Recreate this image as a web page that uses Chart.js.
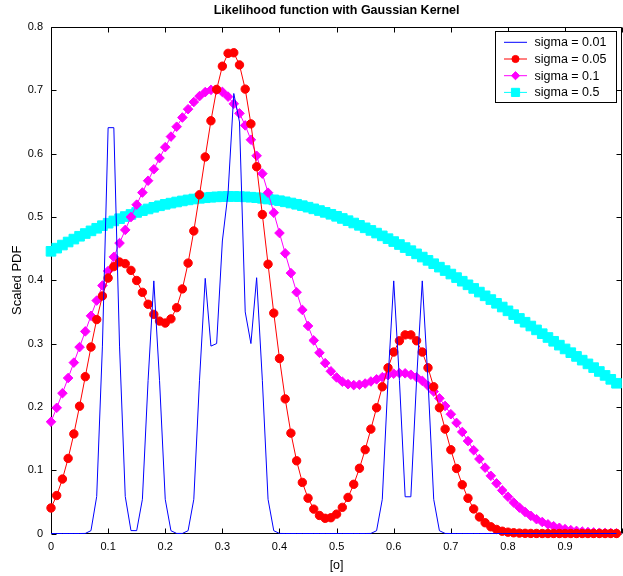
<!DOCTYPE html>
<html>
<head>
<meta charset="utf-8">
<script src="https://cdn.jsdelivr.net/npm/chart.js@4.4.0/dist/chart.umd.min.js"></script>
<style>
  html, body { margin: 0; padding: 0; background: #fff; overflow: hidden; }
  #wrap { width: 630px; height: 576px; }
</style>
</head>
<body>
<div id="wrap"><canvas id="c" width="630" height="576"></canvas></div>
<script>
// ── data (x step 0.01)
const xs = [
  0.00,0.01,0.02,0.03,0.04,0.05,0.06,0.07,0.08,0.09,
  0.10,0.11,0.12,0.13,0.14,0.15,0.16,0.17,0.18,0.19,
  0.20,0.21,0.22,0.23,0.24,0.25,0.26,0.27,0.28,0.29,
  0.30,0.31,0.32,0.33,0.34,0.35,0.36,0.37,0.38,0.39,
  0.40,0.41,0.42,0.43,0.44,0.45,0.46,0.47,0.48,0.49,
  0.50,0.51,0.52,0.53,0.54,0.55,0.56,0.57,0.58,0.59,
  0.60,0.61,0.62,0.63,0.64,0.65,0.66,0.67,0.68,0.69,
  0.70,0.71,0.72,0.73,0.74,0.75,0.76,0.77,0.78,0.79,
  0.80,0.81,0.82,0.83,0.84,0.85,0.86,0.87,0.88,0.89,
  0.90,0.91,0.92,0.93,0.94,0.95,0.96,0.97,0.98,0.99
];

const sigma001 = [
  0,0,0,0,0,0,0.0001,0.0045,0.0584,0.296,
  0.641,0.641,0.296,0.0584,0.0046,0.0045,0.054,0.242,0.399,0.242,
  0.054,0.0044,0.0001,0.0001,0.0044,0.054,0.242,0.403,0.296,0.300,
  0.462,0.538,0.695,0.650,0.350,0.300,0.404,0.242,0.054,0.0044,
  0.0001,0,0,0,0,0,0,0,0,0,
  0,0,0,0,0,0,0.0001,0.0044,0.054,0.242,
  0.399,0.242,0.058,0.058,0.242,0.399,0.242,0.054,0.0044,0.0001,
  0,0,0,0,0,0,0,0,0,0,
  0,0,0,0,0,0,0,0,0,0,
  0,0,0,0,0,0,0,0,0,0
];

const sigma005 = [
  0.0403,0.0600,0.0860,0.1186,0.1573,0.2011,0.2477,0.2945,0.3379,0.3752,
  0.4035,0.4215,0.4288,0.4262,0.4156,0.3996,0.3809,0.3621,0.3461,0.3355,
  0.3324,0.3390,0.3567,0.3863,0.4271,0.4779,0.5350,0.5947,0.6519,0.7014,
  0.7381,0.7584,0.7593,0.7401,0.7019,0.6470,0.5793,0.5038,0.4253,0.3481,
  0.2764,0.2126,0.1585,0.1148,0.0807,0.0558,0.0385,0.0285,0.0240,0.0249,
  0.0306,0.0413,0.0570,0.0777,0.1030,0.1324,0.1649,0.1986,0.2317,0.2617,
  0.2866,0.3044,0.3137,0.3137,0.3044,0.2866,0.2617,0.2317,0.1986,0.1649,
  0.1323,0.1027,0.0770,0.0557,0.0388,0.0261,0.0170,0.0106,0.0064,0.0036,
  0.0021,0.0011,0.0006,0.0003,0.0001,0.0001,0,0,0,0,
  0,0,0,0,0,0,0,0,0,0
];

const sigma01 = [
  0.1765,0.1985,0.2216,0.2456,0.2699,0.2944,0.3192,0.3438,0.3679,0.3916,
  0.4146,0.4369,0.4587,0.4795,0.4999,0.5194,0.5385,0.5572,0.5753,0.5929,
  0.6102,0.6269,0.6425,0.6570,0.6702,0.6815,0.6908,0.6972,0.7007,0.7009,
  0.6975,0.6900,0.6787,0.6636,0.6446,0.6219,0.5966,0.5684,0.5383,0.5067,
  0.4746,0.4425,0.4113,0.3811,0.3532,0.3278,0.3050,0.2854,0.2691,0.2562,
  0.2465,0.2398,0.2359,0.2344,0.2350,0.2369,0.2401,0.2435,0.2469,0.2502,
  0.2524,0.2533,0.2530,0.2508,0.2468,0.2411,0.2336,0.2242,0.2135,0.2015,
  0.1884,0.1747,0.1604,0.1460,0.1315,0.1176,0.1040,0.0911,0.0792,0.0681,
  0.0581,0.0490,0.0409,0.0340,0.0279,0.0226,0.0182,0.0145,0.0115,0.0090,
  0.0069,0.0053,0.0041,0.0031,0.0023,0.0017,0.0012,0.0009,0.0007,0.0005
];

const sigma05 = [
  0.4457,0.4507,0.4556,0.4604,0.4650,0.4695,0.4738,0.4780,0.4821,0.4862,
  0.4901,0.4937,0.4972,0.5006,0.5039,0.5071,0.5099,0.5126,0.5152,0.5176,
  0.5199,0.5218,0.5236,0.5253,0.5269,0.5283,0.5294,0.5303,0.5311,0.5317,
  0.5321,0.5323,0.5323,0.5321,0.5317,0.5312,0.5304,0.5294,0.5283,0.5270,
  0.5256,0.5239,0.5220,0.5200,0.5178,0.5154,0.5128,0.5101,0.5072,0.5042,
  0.5010,0.4976,0.4941,0.4904,0.4867,0.4828,0.4787,0.4745,0.4701,0.4657,
  0.4611,0.4564,0.4516,0.4467,0.4417,0.4366,0.4314,0.4261,0.4207,0.4153,
  0.4098,0.4042,0.3985,0.3928,0.3871,0.3813,0.3754,0.3695,0.3636,0.3577,
  0.3517,0.3457,0.3397,0.3337,0.3277,0.3216,0.3156,0.3096,0.3036,0.2975,
  0.2915,0.2856,0.2797,0.2738,0.2679,0.2620,0.2559,0.2497,0.2435,0.2373
];

const legendLabels = ['sigma = 0.01', 'sigma = 0.05', 'sigma = 0.1', 'sigma = 0.5'];
const xTickVals = [0, 0.1, 0.2, 0.3, 0.4, 0.5, 0.6, 0.7, 0.8, 0.9];
const yTickVals = [0, 0.1, 0.2, 0.3, 0.4, 0.5, 0.6, 0.7, 0.8];

const FONT = "'Liberation Sans', Arial, sans-serif";

// ── series styles (matlab-ish colours / markers)
const series = [
  { label: legendLabels[0], values: sigma001, color: '#0000ff', style: false,     r: 0 },
  { label: legendLabels[1], values: sigma005, color: '#ff0000', style: 'circle',  r: 4.2 },
  { label: legendLabels[2], values: sigma01,  color: '#ff00ff', style: 'rectRot', r: 4.8 },
  { label: legendLabels[3], values: sigma05,  color: '#00ffff', style: 'rect',    r: 6.8 },
];

function tickText(v) { return String(+v.toFixed(1)); }

// ── axes box + inward ticks (drawn under the data, like matlab)
const framePlugin = {
  id: 'frame',
  beforeDatasetsDraw(chart) {
    const { ctx, chartArea: a, scales: { x, y } } = chart;
    const L = Math.round(a.left) + 0.5, R = Math.round(a.right) - 0.5;
    const T = Math.round(a.top) + 0.5, B = Math.round(a.bottom) - 0.5;
    ctx.save();
    ctx.strokeStyle = '#000';
    ctx.lineWidth = 1;
    ctx.beginPath();
    ctx.rect(L, T, R - L, B - T);
    xTickVals.concat([1]).forEach(v => {
      const px = Math.round(x.getPixelForValue(v)) + 0.5;
      ctx.moveTo(px, B); ctx.lineTo(px, B - 5);
      ctx.moveTo(px, T); ctx.lineTo(px, T + 5);
    });
    yTickVals.forEach(v => {
      const py = Math.round(y.getPixelForValue(v)) + 0.5;
      ctx.moveTo(L, py); ctx.lineTo(L + 5, py);
      ctx.moveTo(R, py); ctx.lineTo(R - 5, py);
    });
    ctx.stroke();
    ctx.restore();
  }
};

// ── boxed legend inside the axes, top right
const legendPlugin = {
  id: 'boxLegend',
  afterDraw(chart) {
    const { ctx, chartArea: a } = chart;
    const w = 121, h = 71;
    const left = Math.round(a.right) - 6 - w + 0.5;
    const top = Math.round(a.top) + 4 + 0.5;
    ctx.save();
    ctx.fillStyle = '#fff';
    ctx.fillRect(left, top, w, h);
    ctx.strokeStyle = '#000';
    ctx.lineWidth = 1;
    ctx.strokeRect(left, top, w, h);
    series.forEach((s, i) => {
      const cy = top + 10.8 + i * 16.7;
      ctx.strokeStyle = s.color;
      ctx.fillStyle = s.color;
      ctx.beginPath();
      ctx.moveTo(left + 8.5, cy);
      ctx.lineTo(left + 31.5, cy);
      ctx.stroke();
      if (s.style && Chart.helpers && Chart.helpers.drawPoint) {
        Chart.helpers.drawPoint(ctx, { pointStyle: s.style, radius: s.r * 0.85, borderWidth: 1, rotation: 0 }, left + 20, cy);
      }
      ctx.fillStyle = '#000';
      ctx.font = '12.5px ' + FONT;
      ctx.textBaseline = 'middle';
      ctx.textAlign = 'left';
      ctx.fillText(s.label, left + 39, cy + 0.5);
    });
    ctx.restore();
  }
};

const datasets = series.map(s => ({
  label: s.label,
  data: xs.map((x, i) => ({ x, y: s.values[i] })),
  borderColor: s.color,
  backgroundColor: s.color,
  borderWidth: 1,
  pointStyle: s.style,
  pointRadius: s.r,
  pointBorderWidth: 1,
  pointBackgroundColor: s.color,
  pointBorderColor: s.color,
  tension: 0,
  clip: false,
}));

new Chart(document.getElementById('c').getContext('2d'), {
  type: 'line',
  data: { datasets },
  options: {
    responsive: false,
    animation: false,
    events: [],
    layout: { padding: { left: 0, right: 6, top: 0, bottom: 0 } },
    plugins: {
      legend: { display: false },
      tooltip: { enabled: false },
      title: {
        display: true,
        text: 'Likelihood function with Gaussian Kernel',
        color: '#000',
        fullSize: false,
        font: { family: FONT, size: 12.5, weight: 'bold', lineHeight: 1.2 },
        padding: { top: 3, bottom: 9 },
      },
    },
    scales: {
      x: {
        type: 'linear',
        min: 0,
        max: 1,
        afterFit: s => { s.height = 42.5; },
        afterBuildTicks: s => { s.ticks = xTickVals.map(v => ({ value: v })); },
        grid: { display: false, drawTicks: false },
        border: { display: false },
        ticks: {
          color: '#000', padding: 7, maxRotation: 0, autoSkip: false,
          font: { family: FONT, size: 11 },
          callback: v => tickText(v),
        },
        title: {
          display: true, text: '[o]', color: '#000',
          font: { family: FONT, size: 12.5 },
          padding: { top: 0, bottom: 3 },
        },
      },
      y: {
        min: 0,
        max: 0.8,
        afterFit: s => { s.width = 51; },
        afterBuildTicks: s => { s.ticks = yTickVals.map(v => ({ value: v })); },
        grid: { display: false, drawTicks: false },
        border: { display: false },
        ticks: {
          color: '#000', padding: 8,
          font: { family: FONT, size: 11 },
          callback: v => tickText(v),
        },
        title: {
          display: true, text: 'Scaled PDF', color: '#000',
          font: { family: FONT, size: 13 },
          padding: { top: 10, bottom: 0 },
        },
      },
    },
  },
  plugins: [framePlugin, legendPlugin],
});
</script>
</body>
</html>
